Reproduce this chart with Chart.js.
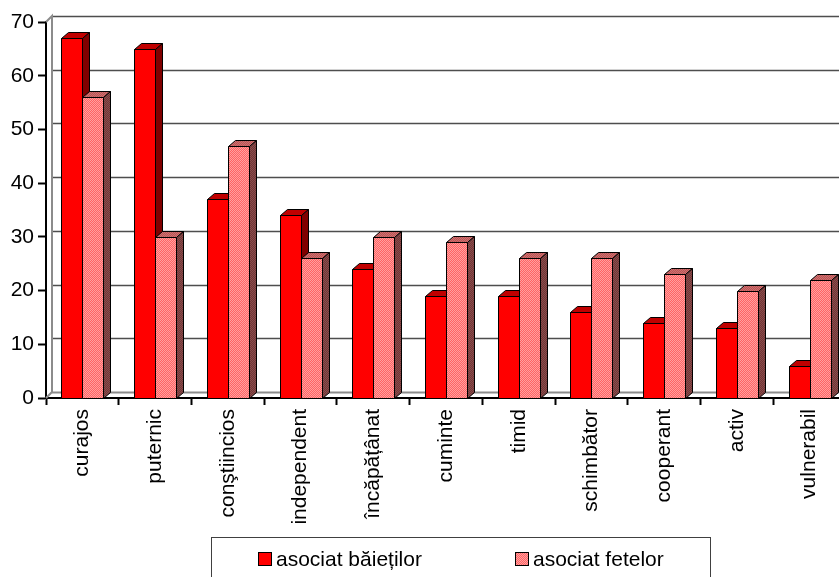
<!DOCTYPE html>
<html lang="ro">
<head>
<meta charset="utf-8">
<title>Trăsături asociate băieților și fetelor</title>
<script src="https://cdn.jsdelivr.net/npm/chart.js@4.4.1/dist/chart.umd.min.js"></script>
<style>
    html, body { margin: 0; padding: 0; background: #fff; }
    #wrap { width: 839px; height: 577px; overflow: hidden; position: relative; }
    #chart { display: block; }
</style>
</head>
<body>
<div id="wrap"><canvas id="chart" width="850" height="577"></canvas></div>
<script>
// Data
const categories = ['curajos', 'puternic', 'conştiincios', 'independent', 'încăpățânat',
    'cuminte', 'timid', 'schimbător', 'cooperant', 'activ', 'vulnerabil'];
const boysValues = [67, 65, 37, 34, 24, 19, 19, 16, 14, 13, 6];
const girlsValues = [56, 30, 47, 26, 30, 29, 26, 26, 23, 20, 22];
const seriesLabels = ['asociat băieților', 'asociat fetelor'];
const yTicks = [0, 10, 20, 30, 40, 50, 60, 70];

// 3D look (Excel style)
const DX = 7, DY = -6;        // bar depth
const WX = 6, WY = -6;        // wall depth
const FONT = "'Liberation Sans', Arial, sans-serif";
const FONT_SIZE = 21;

const canvas = document.getElementById('chart');
const ctx0 = canvas.getContext('2d');

function checker(a, b) {
    const c = document.createElement('canvas');
    c.width = 2; c.height = 2;
    const g = c.getContext('2d');
    g.fillStyle = a; g.fillRect(0, 0, 2, 2);
    g.fillStyle = b; g.fillRect(0, 0, 1, 1); g.fillRect(1, 1, 1, 1);
    return ctx0.createPattern(c, 'repeat');
}

const faceStyles = [
    { front: '#ff0000', top: '#c00000', side: '#800000' },
    { front: checker('#ff6464', '#ffa0a0'), top: checker('#b85555', '#d07070'), side: checker('#703636', '#8a4c4c') }
];

function poly(ctx, pts, fill) {
    ctx.beginPath();
    ctx.moveTo(pts[0][0], pts[0][1]);
    for (let i = 1; i < pts.length; i++) ctx.lineTo(pts[i][0], pts[i][1]);
    ctx.closePath();
    ctx.fillStyle = fill;
    ctx.fill();
    ctx.stroke();
}

function drawBlock(ctx, bar, faces) {
    const p = bar.getProps(['x', 'y', 'base', 'width'], true);
    const l = Math.round(p.x - p.width / 2) + 0.5;
    const r = Math.round(p.x + p.width / 2) + 0.5;
    const t = Math.round(p.y) + 0.5;
    const b = Math.round(p.base) + 0.5;
    poly(ctx, [[l, t], [r, t], [r, b], [l, b]], faces.front);
    poly(ctx, [[l, t], [l + DX, t + DY], [r + DX, t + DY], [r, t]], faces.top);
    poly(ctx, [[r, t], [r + DX, t + DY], [r + DX, b + DY], [r, b]], faces.side);
}

function drawWalls(chart) {
    const { ctx, chartArea: a } = chart;
    const y = chart.scales.y;
    const top = Math.round(y.getPixelForValue(yTicks[yTicks.length - 1]));
    const bottom = Math.round(y.getPixelForValue(yTicks[0]));
    ctx.save();
    // gridlines on the back wall
    yTicks.forEach(v => {
        const py = Math.round(y.getPixelForValue(v)) + WY + 0.5;
        ctx.beginPath();
        ctx.strokeStyle = v === 0 ? '#8c8c8c' : '#4e4e4e';
        ctx.lineWidth = v === 0 ? 2 : 1.6;
        ctx.moveTo(a.left + WX, py);
        ctx.lineTo(a.right + WX, py);
        ctx.stroke();
    });
    // left wall edges
    ctx.strokeStyle = '#8c8c8c';
    ctx.lineWidth = 2;
    ctx.beginPath();
    ctx.moveTo(a.left, top);
    ctx.lineTo(a.left + WX, top + WY);
    ctx.lineTo(a.left + WX, bottom + WY);
    ctx.lineTo(a.left, bottom);
    ctx.stroke();
    ctx.restore();
}

const bars3d = {
    id: 'bars3d',
    beforeDatasetsDraw(chart) {
        drawWalls(chart);
    },
    beforeDatasetDraw() {
        // faces are drawn below, category by category
        return false;
    },
    afterDatasetsDraw(chart) {
        const ctx = chart.ctx;
        const metas = chart.getSortedVisibleDatasetMetas();
        ctx.save();
        ctx.lineWidth = 1;
        ctx.strokeStyle = '#000';
        for (let i = 0; i < chart.data.labels.length; i++) {
            metas.forEach((meta, d) => drawBlock(ctx, meta.data[i], faceStyles[d]));
        }
        ctx.restore();
    }
};

// legend in a framed box under the chart
const boxLegend = {
    id: 'boxLegend',
    afterDraw(chart) {
        const ctx = chart.ctx;
        const itemX = [258, 515];
        ctx.save();
        ctx.strokeStyle = '#404040';
        ctx.lineWidth = 1;
        ctx.strokeRect(211.5, 537.5, 499, 60);
        ctx.font = FONT_SIZE + 'px ' + FONT;
        ctx.textBaseline = 'middle';
        chart.data.datasets.forEach((ds, i) => {
            ctx.fillStyle = faceStyles[i].front;
            ctx.fillRect(itemX[i] + 0.5, 552.5, 13, 13);
            ctx.strokeStyle = '#000';
            ctx.strokeRect(itemX[i] + 0.5, 552.5, 13, 13);
            ctx.fillStyle = '#000';
            ctx.fillText(ds.label, itemX[i] + 18, 560);
        });
        ctx.restore();
    }
};

new Chart(canvas, {
    type: 'bar',
    data: {
        labels: categories,
        datasets: [
            { label: seriesLabels[0], data: boysValues, backgroundColor: faceStyles[0].front },
            { label: seriesLabels[1], data: girlsValues, backgroundColor: faceStyles[1].front }
        ]
    },
    options: {
        responsive: false,
        animation: false,
        events: [],
        layout: { padding: { top: 22, left: 0, right: 4, bottom: 0 } },
        datasets: { bar: { categoryPercentage: 0.578, barPercentage: 1 } },
        plugins: { legend: { display: false }, tooltip: { enabled: false } },
        scales: {
            x: {
                afterFit(scale) { scale.height = 179; },
                grid: { drawOnChartArea: false, offset: true, tickLength: 7, tickWidth: 2, tickColor: '#000' },
                border: { color: '#000', width: 2 },
                ticks: {
                    autoSkip: false, minRotation: 90, maxRotation: 90, padding: 4,
                    color: '#000', font: { family: FONT, size: FONT_SIZE }
                }
            },
            y: {
                min: yTicks[0],
                max: yTicks[yTicks.length - 1],
                afterFit(scale) { scale.width = 46; },
                grid: { drawOnChartArea: false, tickLength: 8, tickWidth: 2, tickColor: '#000' },
                border: { color: '#000', width: 2 },
                ticks: {
                    stepSize: yTicks[1] - yTicks[0], padding: 4,
                    color: '#000', font: { family: FONT, size: FONT_SIZE }
                }
            }
        }
    },
    plugins: [bars3d, boxLegend]
});
</script>
</body>
</html>
